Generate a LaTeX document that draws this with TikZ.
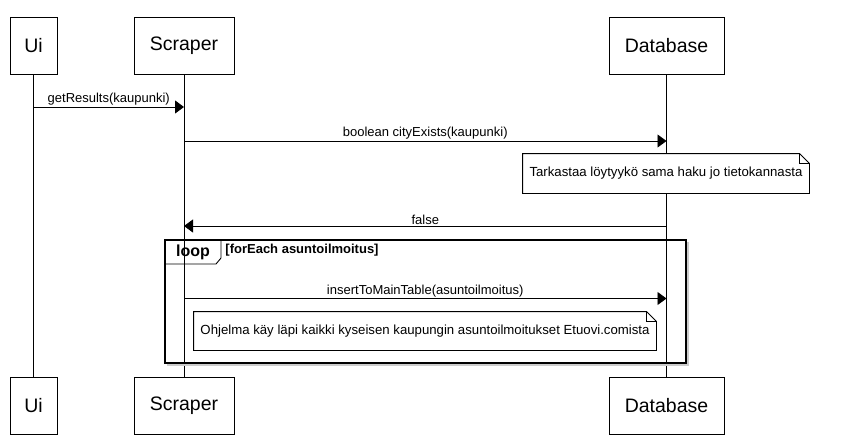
\documentclass[tikz,border=0pt]{standalone}
\usepackage{fontspec}
\setmainfont{Liberation Sans}
\usetikzlibrary{arrows.meta,calc}

% outline of a note with a folded corner
\newcommand\foldnote[1]{%
  \draw (#1.north west) -- ([xshift=-10pt]#1.north east) -- ([yshift=-10pt]#1.north east) -- (#1.south east) -- (#1.south west) -- cycle;
  \draw ([xshift=-10pt]#1.north east) |- ([yshift=-10pt]#1.north east);
}

\begin{document}
\begin{tikzpicture}[x=1pt, y=-1pt, line width=0.9pt,
  actor/.style={draw, minimum height=57pt, inner sep=0pt, font=\fontsize{19.5}{22}\selectfont},
  msg/.style={-{Triangle[length=9pt,width=13pt]}},
  lbl/.style={above, inner sep=1pt, font=\fontsize{13}{15}\selectfont},
  notetext/.style={fill=white, inner sep=0pt, font=\fontsize{13.2}{15}\selectfont}]
\useasboundingbox (0,0) rectangle (849,445);

\foreach \n/\x/\w/\t in {ui/33.5/47/Ui, scraper/184/100/Scraper, db/666.5/115/Database} {
	\node[actor, minimum width=\w] (top \n) at (\x,45.5) {\t};
	\node[actor, minimum width=\w] (bot \n) at (\x,405.5) {\t};
	\draw (top \n) -- (bot \n);
}

\coordinate (m1) at (0,107); \coordinate (m2) at (0,141);
\coordinate (m3) at (0,226); \coordinate (m4) at (0,298.5);
\draw[msg] (top ui |- m1) -- node[lbl] {getResults(kaupunki)} (top scraper |- m1);
\draw[msg] (top scraper |- m2) -- node[lbl] {boolean cityExists(kaupunki)} (top db |- m2);
\node[notetext, minimum width=286pt, minimum height=39pt] (note1) at (666,173.5) {Tarkastaa löytyykö sama haku jo tietokannasta};
\foldnote{note1}
\draw[msg] (top db |- m3) -- node[lbl] {false} (top scraper |- m3);

% loop frame
\draw[gray!40, line width=1.5pt] (167,365) -- (688,365) -- (688,242);
\draw[line width=2pt] (165,240) rectangle (686,363);
\draw (165,264) -- (216,264) -- (221,258) -- (221,240);
\node[font=\fontsize{16}{18}\selectfont\bfseries] (looptag) at (193,252) {loop};
\node[anchor=west, inner sep=0pt, font=\fontsize{13}{15}\selectfont\bfseries] (guard) at (225,250.5) {[forEach asuntoilmoitus]};

\draw[msg] (top scraper |- m4) -- node[lbl] {insertToMainTable(asuntoilmoitus)} (top db |- m4);
\node[notetext, minimum width=462pt, minimum height=38pt] (note2) at (425,331) {Ohjelma käy läpi kaikki kyseisen kaupungin asuntoilmoitukset Etuovi.comista};
\foldnote{note2}
\end{tikzpicture}
\end{document}
